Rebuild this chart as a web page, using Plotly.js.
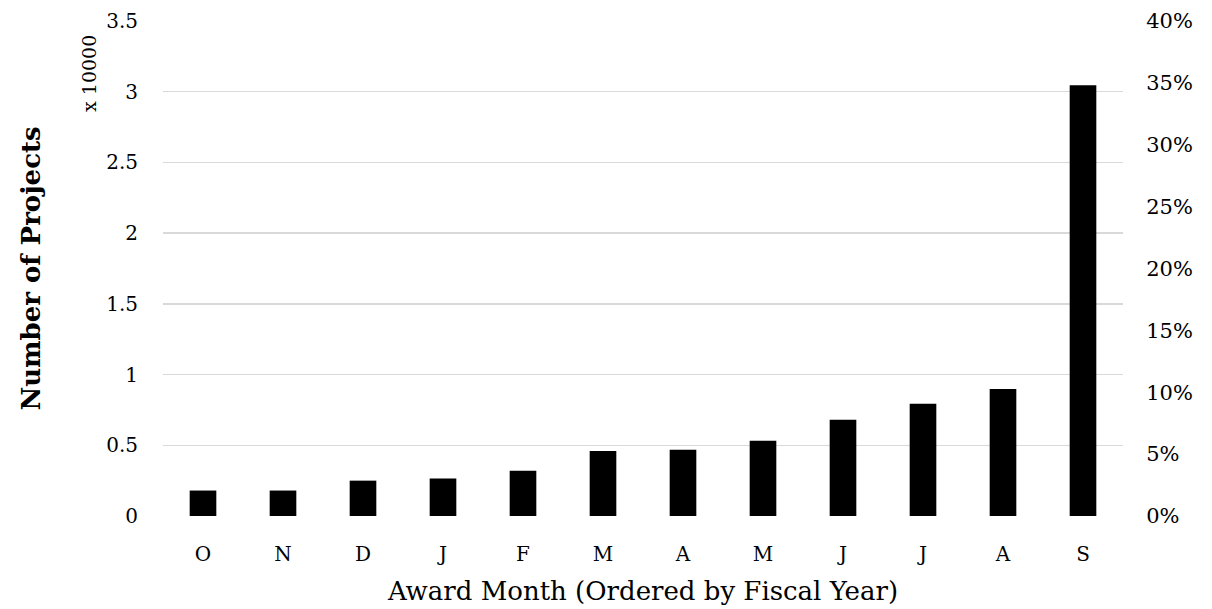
<!DOCTYPE html>
<html>
<head>
<meta charset="utf-8">
<script src="https://cdn.plot.ly/plotly-3.0.1.min.js"></script>
<style>html,body{margin:0;padding:0;background:#fff;}#chart{width:1212px;height:609px;}</style>
</head>
<body>
<div id="chart"></div>
<script>
const months = ["O","N","D","J","F","M","A","M","J","J","A","S"];
const projects = [0.18, 0.18, 0.25, 0.265, 0.32, 0.46, 0.468, 0.532, 0.681, 0.794, 0.898, 3.045];
const leftTicks = [0, 0.5, 1, 1.5, 2, 2.5, 3, 3.5];
const leftTickLabels = ["0", "0.5", "1", "1.5", "2", "2.5", "3", "3.5"];
const rightTicks = [0, 0.05, 0.10, 0.15, 0.20, 0.25, 0.30, 0.35, 0.40];
const rightTickLabels = ["0%", "5%", "10%", "15%", "20%", "25%", "30%", "35%", "40%"];

const FONT = "DejaVu Serif, Liberation Serif, serif";
const xIdx = months.map((m, i) => i);

const data = [
  {type: "bar", x: xIdx, y: projects, marker: {color: "#000000"}, width: 0.333, hoverinfo: "y"},
  {type: "scatter", x: [0], y: [0], yaxis: "y2", mode: "markers", marker: {opacity: 0}, hoverinfo: "skip", showlegend: false}
];

const layout = {
  width: 1212, height: 609,
  margin: {l: 163, r: 89, t: 21, b: 93},
  paper_bgcolor: "#fff", plot_bgcolor: "#fff",
  showlegend: false,
  font: {family: FONT, color: "#000", size: 20},
  bargap: 0.667,
  xaxis: {
    range: [-0.5, 11.5], tickvals: xIdx, ticktext: months,
    showgrid: false, zeroline: false, showline: false,
    ticks: "outside", ticklen: 20, tickcolor: "rgba(0,0,0,0)",
    tickfont: {family: FONT, size: 20},
    title: {text: "Award Month (Ordered by Fiscal Year)", font: {family: FONT, size: 26}, standoff: 16},
    fixedrange: true
  },
  yaxis: {
    range: [0, 3.5], tickvals: leftTicks, ticktext: leftTickLabels,
    showgrid: true, gridcolor: "#d9d9d9", gridwidth: 1.3,
    zeroline: false, showline: false,
    ticks: "outside", ticklen: 20, tickcolor: "rgba(0,0,0,0)",
    tickfont: {family: FONT, size: 20},
    title: {text: "<b>Number of Projects</b>", font: {family: FONT, size: 26}, standoff: 58},
    fixedrange: true
  },
  yaxis2: {
    overlaying: "y", side: "right", range: [0, 0.4],
    tickvals: rightTicks, ticktext: rightTickLabels,
    showgrid: false, zeroline: false, showline: false,
    ticks: "outside", ticklen: 18, tickcolor: "rgba(0,0,0,0)",
    tickfont: {family: FONT, size: 21},
    fixedrange: true
  },
  annotations: [
    {text: "x 10000", xref: "paper", yref: "paper", x: -0.077, y: 0.975, xanchor: "center", yanchor: "top",
     textangle: -90, showarrow: false, font: {family: FONT, size: 19, color: "#000"}}
  ]
};

Plotly.newPlot("chart", data, layout, {displayModeBar: false, staticPlot: true});
</script>
</body>
</html>
